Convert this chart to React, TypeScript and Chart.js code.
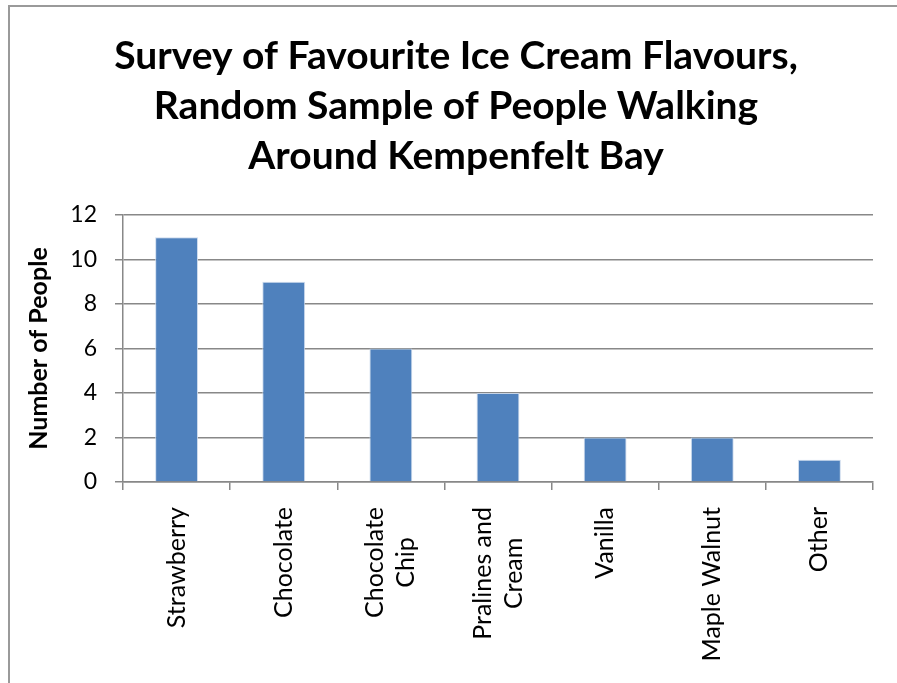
import React, { useEffect, useRef } from "react";
import { Chart, registerables } from "chart.js";

Chart.register(...registerables);

const titleLines = [
  "Survey of Favourite Ice Cream Flavours,",
  "Random Sample of People Walking",
  "Around Kempenfelt Bay",
];
const yAxisTitle = "Number of People";
const categories: string[][] = [
  ["Strawberry"],
  ["Chocolate"],
  ["Chocolate", "Chip"],
  ["Pralines and", "Cream"],
  ["Vanilla"],
  ["Maple Walnut"],
  ["Other"],
];
const peopleCounts = [11, 9, 6, 4, 2, 2, 1];
const yMin = 0;
const yMax = 12;
const yStep = 2;

const FONT = "Lato, 'Open Sans', sans-serif";
const GRID = "#888888";

const rotatedLabels = {
  id: "rotatedLabels",
  afterDraw(chart: any) {
    const xs = chart.scales.x;
    const ctx = chart.ctx;
    const axisY = chart.chartArea.bottom;
    const lh = 31;
    ctx.save();
    ctx.font = `25px ${FONT}`;
    ctx.fillStyle = "#000";
    ctx.textAlign = "center";
    ctx.textBaseline = "middle";
    categories.forEach((lines, i) => {
      const cx = xs.getPixelForValue(i);
      const maxW = Math.max(...lines.map((l) => ctx.measureText(l).width));
      const n = lines.length;
      lines.forEach((line, j) => {
        const lx = cx + (j - (n - 1) / 2) * lh;
        ctx.save();
        ctx.translate(lx, axisY + 25);
        ctx.rotate(-Math.PI / 2);
        ctx.fillText(line, -maxW / 2, 0);
        ctx.restore();
      });
    });
    ctx.restore();
  },
};

export default function App() {
  const ref = useRef<HTMLCanvasElement | null>(null);
  useEffect(() => {
    let chart: Chart | null = null;
    let cancelled = false;
    const make = () => {
      if (cancelled || !ref.current) return;
      chart = new Chart(ref.current, {
        type: "bar",
        data: {
          labels: categories as any,
          datasets: [
            {
              data: peopleCounts,
              backgroundColor: "#4F81BD",
              borderColor: "rgba(200,215,235,0.9)",
              borderWidth: 1,
              barPercentage: 0.4,
              categoryPercentage: 1,
            },
          ],
        },
        options: {
          animation: false,
          responsive: false,
          layout: { padding: { left: 15, right: 0, top: 0, bottom: 0 } },
          plugins: {
            legend: { display: false },
            tooltip: { enabled: false },
            title: {
              display: true,
              text: titleLines,
              color: "#000",
              font: { family: FONT, size: 39, weight: "bold", lineHeight: "50px" } as any,
              padding: { top: 31, bottom: 34 },
            },
          },
          scales: {
            x: {
              offset: true,
              ticks: { display: false },
              grid: {
                offset: true,
                drawOnChartArea: false,
                drawTicks: true,
                tickLength: 8,
                color: GRID,
                lineWidth: 1.5,
              },
              border: { display: true, color: GRID, width: 1.5 },
              afterFit: (s: any) => {
                s.height = 201;
              },
            },
            y: {
              min: yMin,
              max: yMax,
              ticks: {
                stepSize: yStep,
                color: "#000",
                font: { family: FONT, size: 23 },
                padding: 18,
              },
              grid: { color: GRID, lineWidth: 1.5, tickLength: 8 },
              border: { display: true, color: GRID, width: 1.5 },
              title: {
                display: true,
                text: yAxisTitle,
                color: "#000",
                font: { family: FONT, size: 25, weight: "bold" },
                padding: { top: 9, bottom: 0 },
              },
              afterFit: (s: any) => {
                s.width = 108;
              },
            },
            yRight: {
              type: "linear",
              position: "right",
              display: true,
              ticks: { display: false },
              grid: { display: false, drawTicks: false },
              border: { display: false },
              afterFit: (s: any) => {
                s.width = 24;
              },
            },
          },
        },
        plugins: [rotatedLabels],
      });
    };
    const fonts = (document as any).fonts;
    if (fonts && fonts.load) {
      Promise.all([
        fonts.load(`25px Lato`),
        fonts.load(`bold 39px Lato`),
      ])
        .catch(() => {})
        .then(make);
    } else {
      make();
    }
    return () => {
      cancelled = true;
      if (chart) chart.destroy();
    };
  }, []);
  return (
    <div style={{ position: "absolute", left: 0, top: 0, width: 897, height: 683, background: "#fff", overflow: "hidden" }}>
      <div
        style={{
          position: "absolute",
          left: 8,
          top: 5,
          width: 1000,
          height: 1000,
          borderLeft: "2px solid #9a9a9a",
          borderTop: "2px solid #9a9a9a",
        }}
      />
      <canvas ref={ref} width={897} height={683} style={{ position: "absolute", left: 0, top: 0 }} />
    </div>
  );
}
